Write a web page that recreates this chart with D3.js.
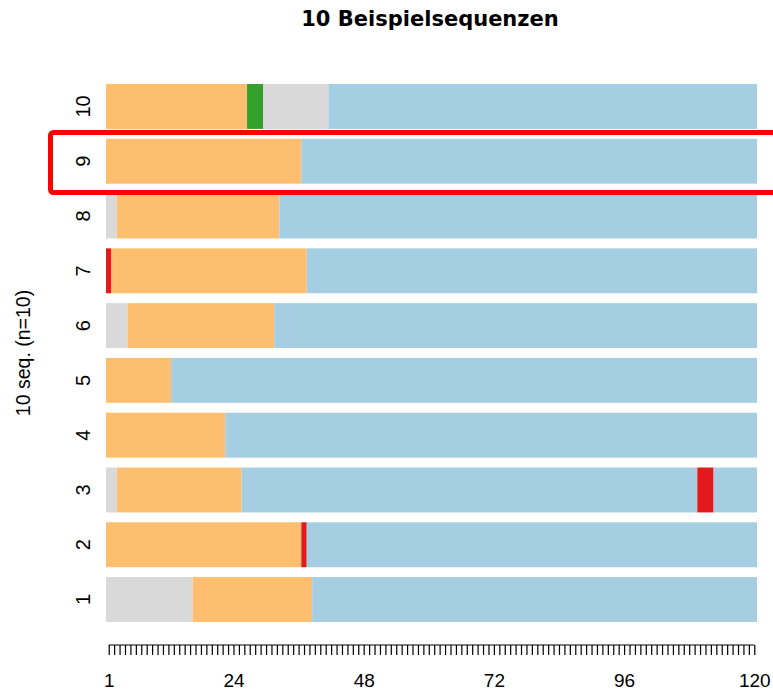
<!DOCTYPE html>
<html>
<head>
<meta charset="utf-8">
<script src="https://cdn.jsdelivr.net/npm/d3@7"></script>
<style>
  body { margin: 0; background: #fff; }
  text { font-family: "Liberation Sans", Arial, sans-serif; fill: #000; }
</style>
</head>
<body>
<script>
// states and their colours (Paired palette)
const stateNames = ['S1', 'S2', 'S3', 'S4', 'S5'];
const stateColors = ['#FDBF6F', '#A6CEE3', '#D9D9D9', '#33A02C', '#E31A1C'];

// sequence labels, bottom to top
const rowLabels = ['1', '2', '3', '4', '5', '6', '7', '8', '9', '10'];

// spells per sequence: [state, duration]
const seq1 = [['S3', 16], ['S1', 22], ['S2', 82]];
const seq2 = [['S1', 36], ['S5', 1], ['S2', 83]];
const seq3 = [['S3', 2], ['S1', 23], ['S2', 84], ['S5', 3], ['S2', 8]];
const seq4 = [['S1', 22], ['S2', 98]];
const seq5 = [['S1', 12], ['S2', 108]];
const seq6 = [['S3', 4], ['S1', 27], ['S2', 89]];
const seq7 = [['S5', 1], ['S1', 36], ['S2', 83]];
const seq8 = [['S3', 2], ['S1', 30], ['S2', 88]];
const seq9 = [['S1', 36], ['S2', 84]];
const seq10 = [['S1', 26], ['S4', 3], ['S3', 12], ['S2', 79]];
const sequences = [seq1, seq2, seq3, seq4, seq5, seq6, seq7, seq8, seq9, seq10];

const positions = d3.range(1, 121);
const labelledTicks = [1, 24, 48, 72, 96, 120];

const W = 773, H = 693;
const plot = { left: 106, right: 757, top: 84, bottom: 622 };

const svg = d3.select('body').append('svg')
  .attr('width', W)
  .attr('height', H);

const color = d3.scaleOrdinal().domain(stateNames).range(stateColors);
const x = d3.scaleLinear().domain([0, 120]).range([plot.left, plot.right]);
const xTick = d3.scaleLinear().domain([0.5, 120.5]).range([plot.left, plot.right]);
const y = d3.scaleBand().domain(rowLabels).range([plot.bottom, plot.top]).paddingInner(0.18);

// turn spells into start/end pieces
const pieces = [];
sequences.forEach((spells, i) => {
  let start = 0;
  spells.forEach(([s, len]) => {
    pieces.push({ row: rowLabels[i], state: s, start, end: start + len });
    start += len;
  });
});

svg.append('g')
  .selectAll('rect')
  .data(pieces)
  .enter()
  .append('rect')
  .attr('x', d => x(d.start))
  .attr('y', d => y(d.row))
  .attr('width', d => x(d.end) - x(d.start))
  .attr('height', y.bandwidth())
  .attr('fill', d => color(d.state));

// x axis
const axisY = 645;
const gx = svg.append('g')
  .attr('transform', `translate(0,${axisY})`)
  .call(d3.axisBottom(xTick)
    .tickValues(positions)
    .tickSize(10)
    .tickFormat(d => labelledTicks.includes(d) ? d : ''));
gx.select('.domain').remove();
gx.selectAll('.tick line').attr('stroke', '#000').attr('stroke-width', 1.2);
gx.selectAll('.tick text')
  .attr('y', 42)
  .attr('dy', 0)
  .style('font-size', '19px');
gx.append('line')
  .attr('x1', xTick(1))
  .attr('x2', xTick(120))
  .attr('stroke', '#000')
  .attr('stroke-width', 1.2);

// y labels (rotated, no ticks)
svg.append('g')
  .selectAll('text')
  .data(rowLabels)
  .enter()
  .append('text')
  .attr('transform', d => `translate(90,${y(d) + y.bandwidth() / 2}) rotate(-90)`)
  .attr('text-anchor', 'middle')
  .style('font-size', '20px')
  .text(d => d);

svg.append('text')
  .attr('transform', `translate(30,${(plot.top + plot.bottom) / 2}) rotate(-90)`)
  .attr('text-anchor', 'middle')
  .style('font-size', '19.5px')
  .text('10 seq. (n=10)');

svg.append('text')
  .attr('x', 430)
  .attr('y', 26)
  .attr('text-anchor', 'middle')
  .style('font-family', '"DejaVu Sans", sans-serif')
  .style('font-size', '21px')
  .style('font-weight', 'bold')
  .text('10 Beispielsequenzen');

// highlight box around sequence 9 (runs off the right edge)
svg.append('rect')
  .attr('x', 50.5)
  .attr('y', 132.5)
  .attr('width', 740)
  .attr('height', 60)
  .attr('rx', 3)
  .attr('fill', 'none')
  .attr('stroke', '#FF0000')
  .attr('stroke-width', 5);
</script>
</body>
</html>
